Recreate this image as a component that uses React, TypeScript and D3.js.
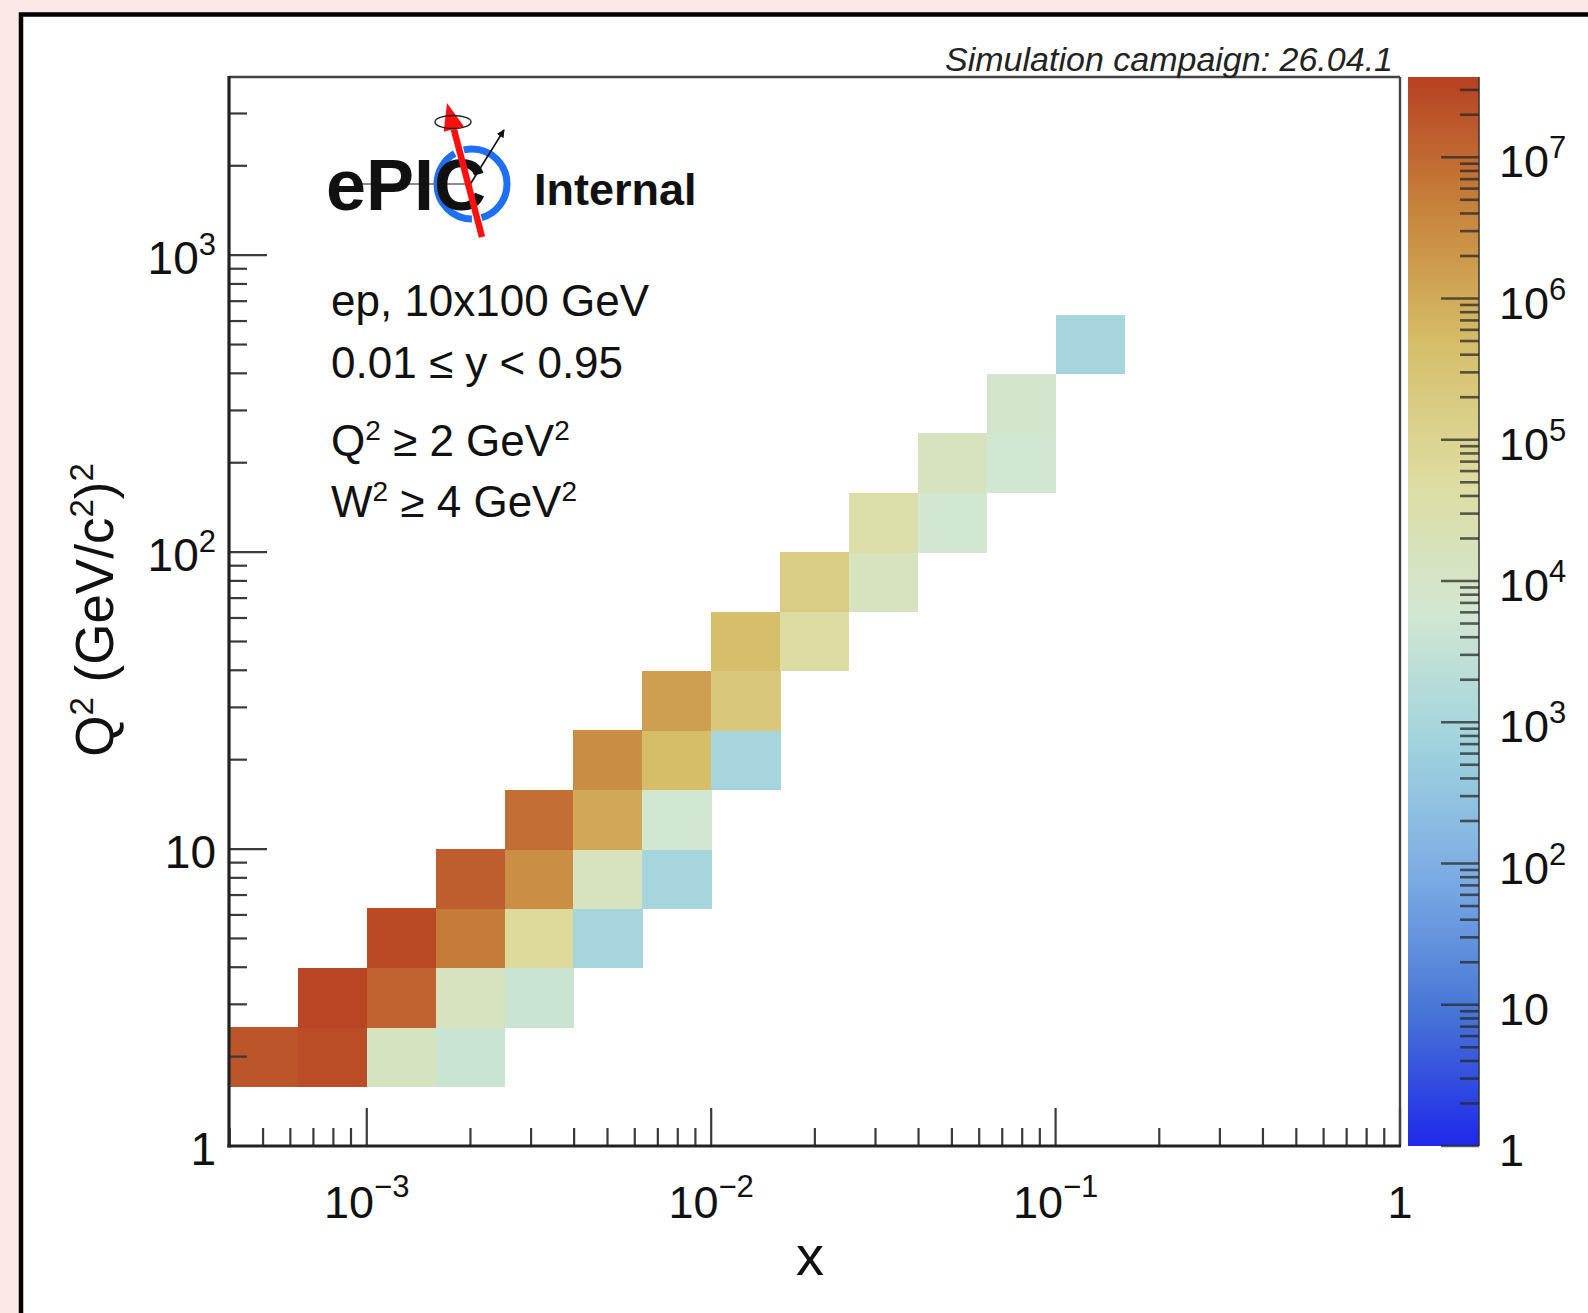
import React from 'react';
import * as d3 from 'd3';

const W = 1588;
const H = 1313;
const FONT = "'Liberation Sans', Arial, Helvetica, sans-serif";

// ---- data: filled histogram cells (lower bin edges in log10) ----
const binWidthLog = 0.2;
const cellLogX = [
  -3.4, -3.2, -3.0, -2.8,
  -3.2, -3.0, -2.8, -2.6,
  -3.0, -2.8, -2.6, -2.4,
  -2.8, -2.6, -2.4, -2.2,
  -2.6, -2.4, -2.2,
  -2.4, -2.2, -2.0,
  -2.2, -2.0,
  -2.0, -1.8,
  -1.8, -1.6,
  -1.6, -1.4,
  -1.4, -1.2,
  -1.2,
  -1.0,
];
const cellLogQ2 = [
  0.2, 0.2, 0.2, 0.2,
  0.4, 0.4, 0.4, 0.4,
  0.6, 0.6, 0.6, 0.6,
  0.8, 0.8, 0.8, 0.8,
  1.0, 1.0, 1.0,
  1.2, 1.2, 1.2,
  1.4, 1.4,
  1.6, 1.6,
  1.8, 1.8,
  2.0, 2.0,
  2.2, 2.2,
  2.4,
  2.6,
];
const cellCounts = [
  1.9e7, 2.6e7, 1.3e4, 4.3e3,
  3.1e7, 1.25e7, 1.4e4, 4.3e3,
  2.8e7, 5.4e6, 6.3e4, 900,
  1.5e7, 2.8e6, 1.4e4, 900,
  8.5e6, 1.1e6, 5.8e3,
  3.0e6, 5.0e5, 900,
  1.5e6, 2.3e5,
  4.6e5, 4.9e4,
  1.7e5, 1.45e4,
  3.5e4, 6e3,
  1.45e4, 6e3,
  7.5e3,
  900,
];

// axis ranges
const xDomain = [Math.pow(10, -3.4), 1];
const yDomain = [1, Math.pow(10, 3.6)];
const zDomain = [1, 3.7e7];

// tick label exponents
const xMajorExp = [-3, -2, -1, 0];
const yMajorExp = [0, 1, 2, 3];
const zMajorExp = [0, 1, 2, 3, 4, 5, 6, 7];

// ROOT kLightTemperature palette
const paletteStops = [0, 0.125, 0.25, 0.375, 0.5, 0.625, 0.75, 0.875, 1];
const paletteColors = [
  'rgb(31,40,234)', 'rgb(71,117,214)', 'rgb(123,171,228)', 'rgb(160,211,222)',
  'rgb(210,231,210)', 'rgb(222,220,160)', 'rgb(214,190,105)', 'rgb(199,132,60)', 'rgb(183,65,34)',
];

// layout
const PL = 229, PR = 1400, PT = 77, PB = 1146;
const CB_L = 1408, CB_R = 1479;

function logTicks(min: number, max: number) {
  const major: number[] = [];
  const minor: number[] = [];
  const lo = Math.floor(Math.log10(min)) - 1;
  const hi = Math.ceil(Math.log10(max)) + 1;
  for (let d = lo; d <= hi; d++) {
    for (let k = 1; k <= 9; k++) {
      const v = k * Math.pow(10, d);
      if (v < min * 0.9999 || v > max * 1.0001) continue;
      if (k === 1) major.push(v); else minor.push(v);
    }
  }
  return { major, minor };
}

function PowLabel({ exp, supFs, raise }: { exp: number; supFs: number; raise: number }) {
  if (exp === 0) return <tspan>1</tspan>;
  if (exp === 1) return <tspan>10</tspan>;
  const e = exp < 0 ? '\u2212' + String(-exp) : String(exp);
  return (
    <>
      <tspan>10</tspan>
      <tspan fontSize={supFs} dy={-raise}>{e}</tspan>
    </>
  );
}

export default function App() {
  const x = d3.scaleLog().domain(xDomain).range([PL, PR]);
  const y = d3.scaleLog().domain(yDomain).range([PB, PT]);
  const zPos = d3.scaleLog().domain(zDomain).range([PB, PT]);
  const zFrac = d3.scaleLog().domain(zDomain).range([0, 1]).clamp(true);
  const palette = d3.scaleLinear<string>().domain(paletteStops).range(paletteColors).interpolate(d3.interpolateRgb);

  const xt = logTicks(xDomain[0], xDomain[1]);
  const yt = logTicks(yDomain[0], yDomain[1]);
  const zt = logTicks(zDomain[0], zDomain[1]);

  const tickColor = '#3a3a3a';

  // logo geometry
  const tail = [482, 237];
  const tip = [447, 103];
  const dx = tip[0] - tail[0], dy = tip[1] - tail[1];
  const len = Math.hypot(dx, dy);
  const ux = dx / len, uy = dy / len;
  const px = -uy, py = ux;
  const hb = [tip[0] - ux * 27, tip[1] - uy * 27];
  const headPts = `${tip[0]},${tip[1]} ${hb[0] + px * 10.5},${hb[1] + py * 10.5} ${hb[0] - px * 10.5},${hb[1] - py * 10.5}`;
  const ringR = 35;
  const deg = (2 * Math.PI * ringR) / 360;
  const ringDash = `${74 * deg} ${16 * deg} ${150 * deg} ${16 * deg} ${104 * deg}`;

  return (
    <svg width={W} height={H} style={{ position: 'absolute', left: 0, top: 0 }} fontFamily={FONT}>
      <defs>
        <linearGradient id="cbar" x1="0" y1="1" x2="0" y2="0">
          {paletteStops.map((s, i) => (
            <stop key={i} offset={s} stopColor={paletteColors[i]} />
          ))}
        </linearGradient>
        <marker id="ah" viewBox="0 0 10 10" refX="9" refY="5" markerWidth="5" markerHeight="5" orient="auto">
          <path d="M0,0 L10,5 L0,10 z" fill="#111" />
        </marker>
      </defs>

      {/* page background + outer frame */}
      <rect x={0} y={0} width={W} height={H} fill="#fde8e8" />
      <rect x={21} y={14.5} width={W} height={H} fill="#ffffff" stroke="#000" strokeWidth={4.5} />

      {/* histogram cells */}
      <g shapeRendering="crispEdges">
        {cellCounts.map((c, k) => {
          const x0 = x(Math.pow(10, cellLogX[k]));
          const x1 = x(Math.pow(10, cellLogX[k] + binWidthLog));
          const y0 = y(Math.pow(10, cellLogQ2[k] + binWidthLog));
          const y1 = y(Math.pow(10, cellLogQ2[k]));
          return <rect key={k} x={x0} y={y0} width={x1 - x0 + 0.5} height={y1 - y0 + 0.5} fill={palette(zFrac(c))} />;
        })}
      </g>

      {/* axis ticks */}
      <g stroke={tickColor} strokeWidth={2.2}>
        {xt.major.map((v, i) => (
          <line key={'xM' + i} x1={x(v)} x2={x(v)} y1={PB} y2={PB - 38} />
        ))}
        {xt.minor.map((v, i) => (
          <line key={'xm' + i} x1={x(v)} x2={x(v)} y1={PB} y2={PB - 18} />
        ))}
        {yt.major.map((v, i) => (
          <line key={'yM' + i} x1={PL} x2={PL + 38} y1={y(v)} y2={y(v)} />
        ))}
        {yt.minor.map((v, i) => (
          <line key={'ym' + i} x1={PL} x2={PL + 18} y1={y(v)} y2={y(v)} />
        ))}
      </g>

      {/* plot frame */}
      <line x1={PL} x2={PR} y1={PT} y2={PT} stroke="#444" strokeWidth={2.4} />
      <line x1={PR} x2={PR} y1={PT} y2={PB} stroke="#444" strokeWidth={2.4} />
      <line x1={PL} x2={PL} y1={PT - 1} y2={PB + 1.5} stroke="#222" strokeWidth={3.2} />
      <line x1={PL - 1.5} x2={PR + 1} y1={PB} y2={PB} stroke="#222" strokeWidth={3.2} />

      {/* x tick labels */}
      {xMajorExp.map((e) => (
        <text key={'xl' + e} x={x(Math.pow(10, e))} y={1218} textAnchor="middle" fontSize={45} fill="#111">
          <PowLabel exp={e} supFs={31} raise={21} />
        </text>
      ))}
      {/* y tick labels */}
      {yMajorExp.map((e) => (
        <text key={'yl' + e} x={216} y={y(Math.pow(10, e)) + 19} textAnchor="end" fontSize={46} fill="#111">
          <PowLabel exp={e} supFs={31} raise={19} />
        </text>
      ))}

      {/* axis titles */}
      <text x={810} y={1275} textAnchor="middle" fontSize={56} fill="#111">x</text>
      <text transform="translate(113,610) rotate(-90)" textAnchor="middle" fontSize={53} fill="#111">
        <tspan>Q</tspan>
        <tspan fontSize={33} dy={-20}>2</tspan>
        <tspan dy={20}> (GeV/c</tspan>
        <tspan fontSize={33} dy={-20}>2</tspan>
        <tspan dy={20}>)</tspan>
        <tspan fontSize={33} dy={-20}>2</tspan>
      </text>

      {/* color bar */}
      <rect x={CB_L} y={PT} width={CB_R - CB_L} height={PB - PT} fill="url(#cbar)" />
      <line x1={CB_R} x2={CB_R} y1={PT} y2={PB} stroke="#333" strokeWidth={1.5} />
      <g stroke="rgba(40,40,40,0.75)" strokeWidth={2.6}>
        {zt.major.map((v, i) => (
          <line key={'zM' + i} x1={CB_R} x2={CB_R - 38} y1={zPos(v)} y2={zPos(v)} />
        ))}
        {zt.minor.map((v, i) => (
          <line key={'zm' + i} x1={CB_R} x2={CB_R - 19} y1={zPos(v)} y2={zPos(v)} />
        ))}
      </g>
      {zMajorExp.map((e) => (
        <text key={'zl' + e} x={1499} y={zPos(Math.pow(10, e)) + 20} textAnchor="start" fontSize={45} fill="#111">
          <PowLabel exp={e} supFs={31} raise={19} />
        </text>
      ))}

      {/* campaign label */}
      <text x={1393} y={71} textAnchor="end" fontSize={34} fontStyle="italic" fill="#222">
        Simulation campaign: 26.04.1
      </text>

      {/* ePIC logo */}
      <g>
        <circle cx={472} cy={184} r={ringR} fill="none" stroke="#1f6ff5" strokeWidth={7}
          strokeDasharray={ringDash} />
        <line x1={362} x2={472} y1={184} y2={184} stroke="#666" strokeWidth={1.5} />
        <text x={326} y={210} fontSize={72} fontWeight="bold" fill="#111">ePIC</text>
        <line x1={471} y1={183} x2={504} y2={130} stroke="#111" strokeWidth={1.6} markerEnd="url(#ah)" />
        <line x1={tail[0]} y1={tail[1]} x2={hb[0]} y2={hb[1]} stroke="#ff1010" strokeWidth={6.5} />
        <polygon points={headPts} fill="#ff1010" />
        <ellipse cx={453} cy={122} rx={18} ry={6.5} fill="none" stroke="#222" strokeWidth={1.4} />
        <text x={534} y={205} fontSize={45} fontWeight="bold" fill="#111">Internal</text>
      </g>

      {/* info text */}
      <g fontSize={44} fill="#111">
        <text x={331} y={316}>ep, 10x100 GeV</text>
        <text x={331} y={378}>0.01 {'\u2264'} y {'<'} 0.95</text>
        <text x={331} y={456}>
          <tspan>Q</tspan>
          <tspan fontSize={28} dy={-16}>2</tspan>
          <tspan dy={16}> {'\u2265'} 2 GeV</tspan>
          <tspan fontSize={28} dy={-16}>2</tspan>
        </text>
        <text x={331} y={517}>
          <tspan>W</tspan>
          <tspan fontSize={28} dy={-16}>2</tspan>
          <tspan dy={16}> {'\u2265'} 4 GeV</tspan>
          <tspan fontSize={28} dy={-16}>2</tspan>
        </text>
      </g>
    </svg>
  );
}
